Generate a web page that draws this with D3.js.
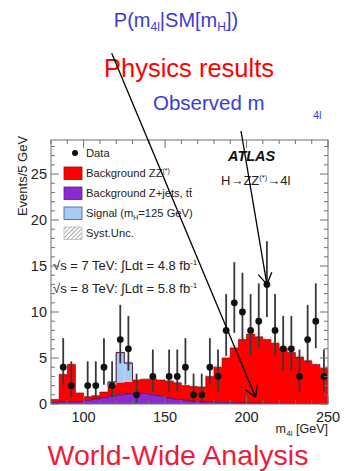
<!DOCTYPE html>
<html><head><meta charset="utf-8">
<script src="https://cdn.jsdelivr.net/npm/d3@7"></script>
<style>body{margin:0;background:#fff} svg{display:block}</style>
</head><body>
<svg id="c" width="347" height="471"></svg>
<script>
// ---- data (5 GeV bins, lower edges) ----
const binLow = [80,85,90,95,100,105,110,115,120,125,130,135,140,145,150,155,160,165,170,175,180,185,190,195,200,205,210,215,220,225,230,235,240,245];
const dataEvents = [0,4,2,0,2,2,4,2,7,6,1,0,3,0,3,3,4,1,1,4,3,8,11,10,8,9,13,8,6,6,3,7,9,3];
const bkgZjets = [0.15,0.2,0.2,0.25,0.4,0.55,0.7,0.85,1.0,1.1,1.2,1.15,1.0,0.85,0.65,0.5,0.4,0.3,0.25,0.2,0.18,0.15,0.13,0.12,0.11,0.1,0.09,0.08,0.07,0.07,0.06,0.06,0.05,0.05];
const bkgZZ = [0.35,3.0,4.1,0.95,0.4,0.35,0.6,1.15,1.3,1.3,1.4,1.55,1.7,1.75,1.85,1.8,1.6,1.6,1.6,2.8,3.82,4.85,5.97,6.88,7.49,7.2,6.91,6.52,6.03,5.53,5.04,4.64,4.25,3.85];
const signal = [0,0,0,0,0,0,0,0.4,3.3,2.05,0,0,0,0,0,0,0,0,0,0,0,0,0,0,0,0,0,0,0,0,0,0,0,0];
// Garwood 68% Poisson errors indexed by count
const poisLo = [0,0.83,1.29,1.63,1.91,2.16,2.38,2.58,2.77,2.94,3.11,3.26,3.41,3.55];
const poisHi = [1.84,2.30,2.64,2.92,3.16,3.38,3.58,3.77,3.95,4.11,4.27,4.42,4.56,4.70];
const xTicks = [100,150,200,250];
const yTicks = [0,5,10,15,20,25];
const binWidth = 5;

const svg = d3.select("#c");
const FONT = "'Liberation Sans', Arial, Helvetica, sans-serif";
const L = 51, R = 328, T = 140, B = 404;
const x = d3.scaleLinear().domain([80,250]).range([L,R]);
const y = d3.scaleLinear().domain([0,28.7]).range([B,T]);

// defs: hatch
const defs = svg.append("defs");
const pat = defs.append("pattern").attr("id","hatch").attr("patternUnits","userSpaceOnUse")
  .attr("width",3).attr("height",3).attr("patternTransform","rotate(45)");
pat.append("line").attr("x1",0).attr("y1",0).attr("x2",0).attr("y2",3)
  .attr("stroke","#555").attr("stroke-width",1);
defs.append("clipPath").attr("id","plotclip").append("rect")
  .attr("x",L).attr("y",T).attr("width",R-L).attr("height",B-T);

const rows = binLow.map((lo,i)=>({lo, hi:lo+binWidth, zj:bkgZjets[i], zz:bkgZZ[i], sig:signal[i]}));
const area = d3.area().x(d=>x(d[0])).y0(d=>y(d[1])).y1(d=>y(d[2]));
function layer(getLow,getHigh,fill,stroke){
  const pts = rows.flatMap(r=>[[r.lo,getLow(r),getHigh(r)],[r.hi,getLow(r),getHigh(r)]]);
  svg.append("path").attr("d",area(pts)).attr("fill",fill).attr("clip-path","url(#plotclip)");
  if(stroke){
    svg.append("path").attr("d",d3.line().x(d=>x(d[0])).y(d=>y(d[2]))(pts))
      .attr("fill","none").attr("stroke",stroke).attr("stroke-width",0.8).attr("clip-path","url(#plotclip)");
  }
}
// signal stacked on top of background
const sigRows = rows.filter(r=>r.sig>0);
svg.append("g").selectAll("rect").data(sigRows).join("rect")
  .attr("x",r=>x(r.lo)).attr("width",r=>x(r.hi)-x(r.lo))
  .attr("y",r=>y(r.zj+r.zz+r.sig)).attr("height",r=>y(r.zj+r.zz)-y(r.zj+r.zz+r.sig))
  .attr("fill","#a8cbf2");
{
  const pts = sigRows.flatMap(r=>[[r.lo,r.zj+r.zz+r.sig],[r.hi,r.zj+r.zz+r.sig]]);
  const first = sigRows[0], last = sigRows[sigRows.length-1];
  pts.unshift([first.lo, first.zj+first.zz]);
  pts.push([last.hi, last.zj+last.zz]);
  svg.append("path").attr("d",d3.line().x(d=>x(d[0])).y(d=>y(d[1]))(pts))
    .attr("fill","none").attr("stroke","#3a5a9a").attr("stroke-width",1);
}
layer(r=>r.zj, r=>r.zj+r.zz, "#ff0000");
layer(r=>0, r=>r.zj, "#8a2bd0", "#3a0a60");
// syst band
{
  const pts = rows.flatMap(r=>{const t=r.zj+r.zz+r.sig; return [[r.lo,t*0.95,t*1.05],[r.hi,t*0.95,t*1.05]];});
  svg.append("path").attr("d",area(pts)).attr("fill","url(#hatch)").attr("opacity",0.6).attr("clip-path","url(#plotclip)");
  svg.append("path").attr("d",d3.line().x(d=>x(d[0])).y(d=>y(d[2]*0.5+d[1]*0.5))(pts))
    .attr("fill","none").attr("stroke","#7a0000").attr("stroke-width",0.6).attr("clip-path","url(#plotclip)");
}

// data points with Poisson error bars
const pts = rows.map((r,i)=>({m:r.lo+binWidth/2, n:dataEvents[i]})).filter(d=>d.n>0);
svg.append("g").selectAll("line").data(pts).join("line")
  .attr("x1",d=>x(d.m)).attr("x2",d=>x(d.m))
  .attr("y1",d=>y(d.n-poisLo[d.n])).attr("y2",d=>y(d.n+poisHi[d.n]))
  .attr("stroke","#383838").attr("stroke-width",1.8);
svg.append("g").selectAll("circle").data(pts).join("circle")
  .attr("cx",d=>x(d.m)).attr("cy",d=>y(d.n)).attr("r",3.4).attr("fill","#111");

// frame and ticks
const axCol = "#707070";
svg.append("rect").attr("x",L).attr("y",T).attr("width",R-L).attr("height",B-T)
  .attr("fill","none").attr("stroke",axCol).attr("stroke-width",1);
const xMinor = d3.range(80,251,10);
const yMinor = d3.range(0,29,1);
const tk = svg.append("g").attr("stroke",axCol).attr("stroke-width",1);
xMinor.forEach(v=>{
  const len = v%50===0?8:4;
  tk.append("line").attr("x1",x(v)).attr("x2",x(v)).attr("y1",B).attr("y2",B-len);
  tk.append("line").attr("x1",x(v)).attr("x2",x(v)).attr("y1",T).attr("y2",T+len);
});
yMinor.forEach(v=>{
  const len = v%5===0?8:4;
  tk.append("line").attr("y1",y(v)).attr("y2",y(v)).attr("x1",L).attr("x2",L+len);
  tk.append("line").attr("y1",y(v)).attr("y2",y(v)).attr("x1",R).attr("x2",R-len);
});
// tick labels
svg.append("g").selectAll("text").data(yTicks).join("text")
  .attr("x",L-4).attr("y",d=>y(d)+5).attr("text-anchor","end")
  .attr("font-family",FONT).attr("font-size",14.5).attr("fill","#222").text(d=>d);
svg.append("g").selectAll("text").data(xTicks).join("text")
  .attr("x",d=>x(d)).attr("y",B+18).attr("text-anchor","middle")
  .attr("font-family",FONT).attr("font-size",14.5).attr("fill","#222").text(d=>d);
// axis titles
svg.append("text").attr("transform",`translate(27,${176}) rotate(-90)`).attr("text-anchor","middle")
  .attr("font-family",FONT).attr("font-size",13).attr("fill","#222").text("Events/5 GeV");
{
  // x title built from separate pieces: m, subscript 4l, [GeV]
  const g = svg.append("g").attr("font-family",FONT).attr("fill","#222");
  const t3 = g.append("text").attr("x",R).attr("y",433).attr("text-anchor","end").attr("font-size",12.5).text("[GeV]");
  const w3 = t3.node().getComputedTextLength();
  const t2 = g.append("text").attr("x",R-w3-3.5).attr("y",435.5).attr("text-anchor","end").attr("font-size",8).text("4l");
  const w2 = t2.node().getComputedTextLength();
  g.append("text").attr("x",R-w3-3.5-w2-0.5).attr("y",433).attr("text-anchor","end").attr("font-size",12.5).text("m");
}

// legend
const lg = svg.append("g").attr("font-family",FONT).attr("font-size",11.2).attr("fill","#222");
lg.append("circle").attr("cx",75).attr("cy",153).attr("r",3).attr("fill","#111");
lg.append("text").attr("x",86).attr("y",157).text("Data");
const legItems = [
  {fill:"#ff0000", stroke:"#a00", y:167},
  {fill:"#8a2bd0", stroke:"#5a1a90", y:187},
  {fill:"#a8cbf2", stroke:"#3a5a9a", y:207},
  {fill:"url(#hatch)", stroke:"#bbb", y:227}
];
legItems.forEach((d,i)=>{
  lg.append("rect").attr("x",64).attr("y",d.y).attr("width",18).attr("height",12.5)
    .attr("fill",d.fill).attr("stroke",d.stroke).attr("stroke-width",0.8);
  const t = lg.append("text").attr("x",86).attr("y",d.y+10);
  if(i===0){ t.append("tspan").text("Background ZZ"); t.append("tspan").attr("font-size",7).attr("dy",-4).text("(*)"); }
  else if(i===1){ t.text("Background Z+jets, tt\u0304"); }
  else if(i===2){ t.append("tspan").text("Signal (m"); t.append("tspan").attr("font-size",7).attr("dy",3).text("H"); t.append("tspan").attr("dy",-3).text("=125 GeV)"); }
  else t.text("Syst.Unc.");
});
function lumi(yb, s, lum){
  const t = svg.append("text").attr("x",53).attr("y",yb).attr("font-family",FONT).attr("font-size",13).attr("fill","#222");
  t.append("tspan").text(`\u221As = ${s} TeV: \u222BLdt = ${lum} fb`);
  t.append("tspan").attr("font-size",8).attr("dy",-5).text("-1");
}
lumi(270,7,"4.8");
lumi(293,8,"5.8");
svg.append("text").attr("x",228).attr("y",161).attr("font-family",FONT).attr("font-size",14.5)
  .attr("font-weight","bold").attr("font-style","italic").attr("fill","#111").text("ATLAS");
{
  const t = svg.append("text").attr("x",221).attr("y",185).attr("font-family",FONT).attr("font-size",13).attr("fill","#222");
  t.append("tspan").text("H\u2192ZZ");
  t.append("tspan").attr("font-size",7.5).attr("dy",-5).text("(*)");
  t.append("tspan").attr("dy",5).text("\u21924l");
}

// slide annotations
const blue = "#3b3bd8";
{
  const t = svg.append("text").attr("x",176).attr("y",27).attr("text-anchor","middle")
    .attr("font-family",FONT).attr("font-size",20).attr("fill",blue);
  t.append("tspan").text("P(m");
  t.append("tspan").attr("font-size",12).attr("dy",4).text("4l");
  t.append("tspan").attr("dy",-4).text("|SM[m");
  t.append("tspan").attr("font-size",12).attr("dy",4).text("H");
  t.append("tspan").attr("dy",-4).text("])");
}
svg.append("text").attr("x",189).attr("y",77).attr("text-anchor","middle")
  .attr("font-family",FONT).attr("font-size",25.5).attr("fill","#ff0000").text("Physics results");
svg.append("text").attr("x",153).attr("y",110)
  .attr("font-family",FONT).attr("font-size",20.5).attr("fill",blue).text("Observed m");
svg.append("text").attr("x",313).attr("y",119)
  .attr("font-family",FONT).attr("font-size",11).attr("fill",blue).text("4l");
svg.append("text").attr("x",178).attr("y",465).attr("text-anchor","middle")
  .attr("font-family",FONT).attr("font-size",28.5).attr("fill","#ee1c3c").text("World-Wide Analysis");

function arrow(x0,y0,x1,y1){
  svg.append("line").attr("x1",x0).attr("y1",y0).attr("x2",x1).attr("y2",y1)
    .attr("stroke","#000").attr("stroke-width",1.3);
  const a = Math.atan2(y0-y1,x0-x1), len=13, h=0.55;
  [a-h,a+h].forEach(b=>{
    svg.append("line").attr("x1",x1).attr("y1",y1).attr("x2",x1+len*Math.cos(b)).attr("y2",y1+len*Math.sin(b))
      .attr("stroke","#000").attr("stroke-width",1.3);
  });
}
arrow(111.7,53.3, x(205.5), y(0.75));
arrow(241,131, x(212.5), y(13));
</script>
</body></html>
